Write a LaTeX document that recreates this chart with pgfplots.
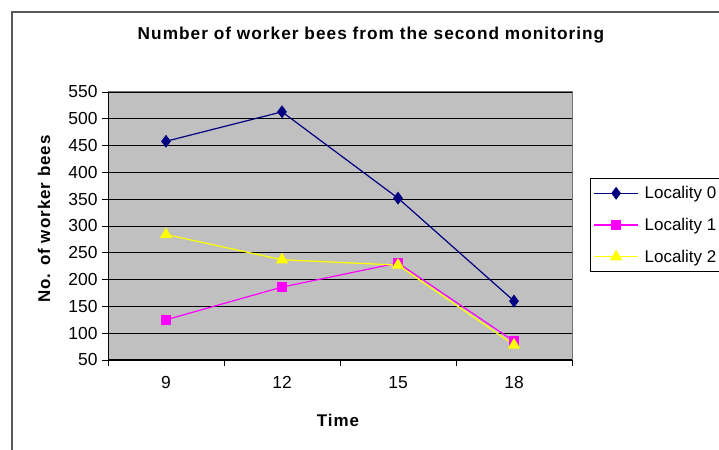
\documentclass[border=0pt]{standalone}
\usepackage{fontspec}
\setmainfont{Liberation Sans}
\usepackage{pgfplots}
\pgfplotsset{compat=1.18}
\definecolor{plotgray}{RGB}{192,192,192}
\definecolor{navyc}{RGB}{0,0,128}
\definecolor{magc}{RGB}{255,0,255}
\definecolor{yelc}{RGB}{255,255,0}
\newfontfamily\boldsp[LetterSpace=6]{Liberation Sans Bold}
\begin{document}
\begin{tikzpicture}[x=1bp,y=1bp]
\useasboundingbox (0,0) rectangle (719,450);
\draw[black!65, line width=1.2bp] (12,-5) -- (12,438) -- (730,438);
\node[font=\boldsp\fontsize{17.3}{18}\selectfont] at (371,415) {Number of worker bees from the second monitoring};
\begin{axis}[
  at={(108bp,90bp)}, anchor=south west,
  scale only axis, width=464bp, height=268bp,
  xmin=0.5, xmax=4.5, ymin=50, ymax=550,
  xtick={0.5,1.5,2.5,3.5,4.5}, xticklabels={},
  extra x ticks={1,2,3,4}, extra x tick labels={9,12,15,18},
  extra x tick style={major tick length=0pt, xticklabel style={yshift=-13bp}},
  ytick={50,100,...,550},
  xtick pos=bottom, ytick pos=left,
  tick align=outside, major tick length=6bp,
  tick style={black, line width=0.8bp},
  ymajorgrids, grid style={black, line width=0.9bp},
  axis background/.style={fill=plotgray},
  axis line style={draw=gray!90!black, line width=1bp},
  tick label style={font=\fontsize{17.5}{17.5}\selectfont},
  /pgf/number format/assume math mode=true,
  yticklabel style={xshift=-1bp},
  legend style={at={(rel axis cs:1.039,0.679)}, anchor=north west, draw=black, fill=white,
    font=\fontsize{17}{17}\selectfont, row sep=14bp, inner xsep=3bp, inner ysep=6bp, line width=0.8bp},
  legend cell align=left,
  legend image code/.code={\draw[mark repeat=2,mark phase=2,#1] plot coordinates {(0bp,0bp) (22bp,0bp) (44bp,0bp)};},
  clip=false,
]
\addplot[navyc, line width=1.2bp, mark=diamond*, mark size=5.5bp, mark options={fill=navyc, draw=navyc}] coordinates {(1,458) (2,513) (3,352) (4,160)};
\addlegendentry{\hspace{4bp}Locality 0\hspace*{10bp}}
\addplot[magc, line width=1.2bp, mark=square*, mark size=4.2bp, mark options={fill=magc, draw=magc}] coordinates {(1,125) (2,186) (3,231) (4,85)};
\addlegendentry{\hspace{4bp}Locality 1\hspace*{10bp}}
\addplot[yelc, line width=1.2bp, mark=triangle*, mark size=6bp, mark options={fill=yelc, draw=yelc}] coordinates {(1,284) (2,237) (3,227) (4,78)};
\addlegendentry{\hspace{4bp}Locality 2\hspace*{10bp}}
\draw[black, line width=1bp] (rel axis cs:0,1) -- (rel axis cs:0,0) -- (rel axis cs:1,0);
\end{axis}
\node[rotate=90, font=\boldsp\fontsize{17}{18}\selectfont] at (44,231) {No. of worker bees};
\node[font=\boldsp\fontsize{17}{18}\selectfont] at (338,30) {Time};
\end{tikzpicture}
\end{document}
